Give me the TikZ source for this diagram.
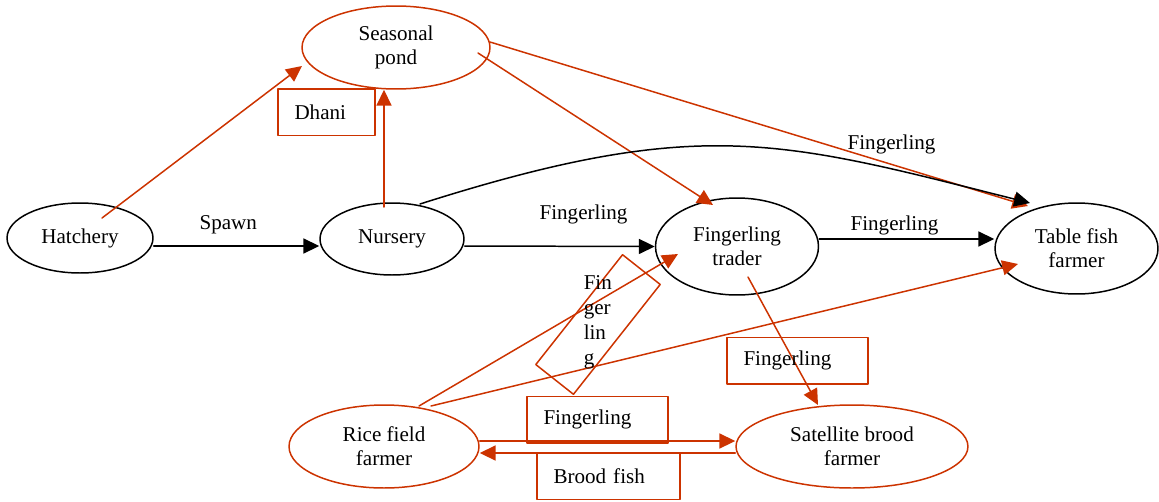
\documentclass[tikz,border=0pt]{standalone}
\usepackage{fontspec}
\setmainfont{Liberation Serif}
\usetikzlibrary{shapes.geometric,arrows.meta}
\definecolor{brick}{RGB}{204,51,0}
\begin{document}
\begin{tikzpicture}[x=0.02cm,y=-0.02cm,line join=round,line cap=round,>={Triangle[length=9pt,width=8.5pt]},line width=0.85pt]
	\tikzset{every node/.style={font=\fontsize{12}{13.5}\selectfont},
		place/.style={ellipse,draw,inner sep=0pt,align=center},
		rplace/.style={place,draw=brick},
		lbox/.style={draw=brick,rectangle,inner xsep=0.33cm,inner ysep=0pt,minimum height=0.93cm,align=left}}
	\useasboundingbox (0,0) rectangle (1159,501);
	\node[place,minimum width=2.92cm,minimum height=1.4cm] (hatch) at (80,238) {Hatchery};
	\node[place,minimum width=2.88cm,minimum height=1.44cm] (nurs) at (392,239) {Nursery};
	\node[rplace,minimum width=3.76cm,minimum height=1.66cm] (pond) at (396,47.5) {Seasonal\\pond};
	\node[place,minimum width=3.26cm,minimum height=1.94cm] (trader) at (737,246.5) {Fingerling\\trader};
	\node[place,minimum width=3.26cm,minimum height=1.82cm] (table) at (1076.5,248.5) {Table fish\\farmer};
	\node[rplace,minimum width=3.8cm,minimum height=1.66cm] (rice) at (384,446.5) {Rice field\\farmer};
	\node[rplace,minimum width=4.64cm,minimum height=1.66cm] (sat) at (852,446.5) {Satellite brood\\farmer};
	\draw[brick,->] ([shift={(22,-20)}]hatch.center) -- ([shift={(-94,18.5)}]pond.center);
	\draw[brick,->] ([shift={(-8,-32)}]nurs.center) -- ([shift={(-12,0)}]pond.south);
	\draw[brick,->] ([shift={(82,5.5)}]pond.center) -- ([shift={(-24,-41.5)}]trader.center);
	\draw[brick,->] ([shift={(94,-5.5)}]pond.center) -- ([shift={(-48.5,-42.5)}]table.center);
	\draw[brick,->] ([shift={(11,30.5)}]trader.center) -- ([shift={(-34,-41.5)}]sat.center);
	\draw[brick,->] ([shift={(35,-40.5)}]rice.center) -- ([shift={(-59,7.5)}]trader.center);
	\draw[brick,->] ([shift={(47,-40.5)}]rice.center) -- ([shift={(-58.5,15.5)}]table.center);
	\draw[brick,->] ([shift={(0,-5.5)}]rice.east) -- ([shift={(0,-5.5)}]sat.west);
	\draw[brick,->] ([shift={(0,6.5)}]sat.west) -- ([shift={(0,6.5)}]rice.east);
	\draw[->] ([shift={(0,8)}]hatch.east) -- ([shift={(0,7)}]nurs.west) node[pos=0.45,above=3pt]{Spawn};
	\draw[->] ([shift={(0,7)}]nurs.east) -- (trader.west) node[pos=0.625,above=8.7pt]{Fingerling};
	\draw[->] ([shift={(0,-7.5)}]trader.east) -- ([shift={(0,-9.5)}]table.west) node[pos=0.43,above=-1.5pt]{Fingerling};
	\draw[->] ([shift={(28,-35)}]nurs.center) .. controls (700,115) and (780,140) .. ([shift={(-46.5,-45.5)}]table.center) node[pos=0.79,above=4.5pt]{Fingerling};
	\node[lbox,text width=1.28cm] (dhani) at (326.5,112) {Dhani};
	\node[lbox,text width=2.16cm] (fbox1) at (797.5,360.5) {Fingerling};
	\node[lbox,text width=2.16cm] (fbox2) at (597.5,419.5) {Fingerling};
	\node[lbox,text width=2.2cm] (brood) at (608.5,476) {Brood fish};
	\node[draw=brick,rotate=51.7,minimum width=2.8cm,minimum height=0.96cm,inner sep=0pt] (vbox) at (598,324.5) {};
	\node[anchor=north west,inner sep=0pt,align=left,font=\fontsize{12}{14.2}\selectfont] (vtxt) at (583,275) {Fin\\ger\\lin\\g};
\end{tikzpicture}
\end{document}
